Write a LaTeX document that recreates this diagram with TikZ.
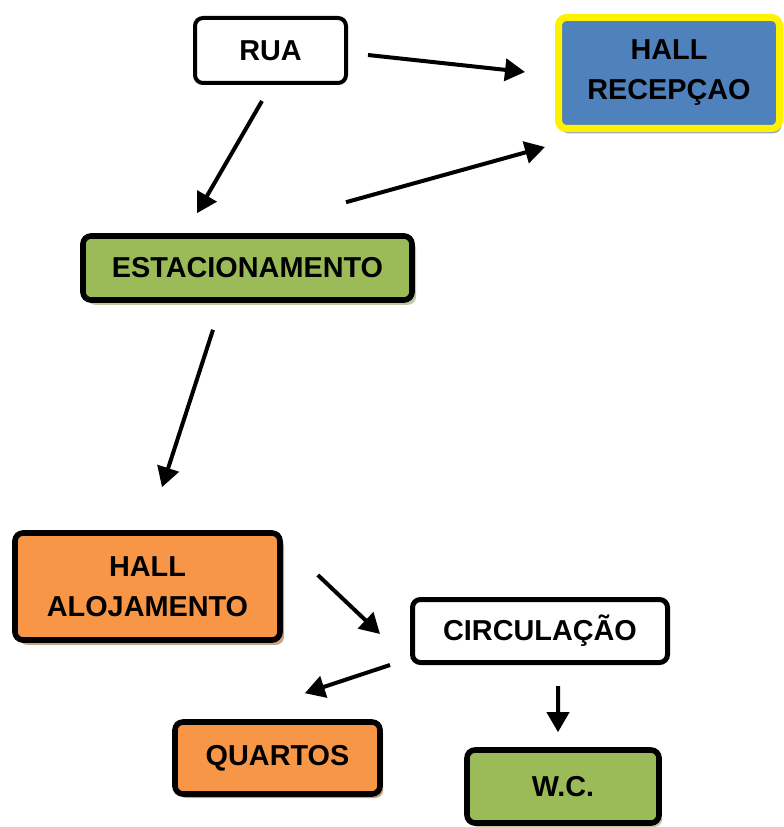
\documentclass[tikz,border=0pt]{standalone}
\usepackage{fontspec}
\setmainfont{Liberation Sans}
\usepackage{tikz}
\usetikzlibrary{calc}
\usetikzlibrary{arrows.meta}
\usetikzlibrary{shadows}

\definecolor{azul}{HTML}{4F81BD}
\definecolor{verde}{HTML}{9BBB59}
\definecolor{laranja}{HTML}{F79646}
\definecolor{sombraazul}{HTML}{A3A9B6}
\definecolor{sombraverde}{HTML}{BFC7A6}
\definecolor{sombralaranja}{HTML}{C9A27F}

\begin{document}
\begin{tikzpicture}
        \tikzset{caixa/.style={draw=black,rounded corners=0.2cm,line width=0.14cm,font=\bfseries\fontsize{20.5}{28.5}\selectfont,align=center,inner sep=0pt},
                 seta/.style={line width=0.1cm,-{Triangle[length=0.5cm,width=0.55cm]}}}
        \useasboundingbox (0,0) rectangle (19.575,-20.675);

        \coordinate (p_rua) at (6.7625,-1.2625);
        \coordinate (p_recep) at (16.725,-1.825);
        \coordinate (p_estac) at (6.1875,-6.7);
        \coordinate (p_aloj) at (3.6875,-14.6625);
        \coordinate (p_circ) at (13.5,-15.775);
        \coordinate (p_quartos) at (6.9375,-18.95);
        \coordinate (p_wc) at (14.075,-19.6625);

        %caixas
        \node[caixa,fill=white,line width=0.1cm,minimum width=3.775cm,minimum height=1.625cm] (rua) at (p_rua) {RUA};
        \node[caixa,fill=azul,draw=yellow,line width=0.175cm,minimum width=5.525cm,minimum height=2.775cm,
              drop shadow={shadow xshift=0.05cm,shadow yshift=-0.12cm,fill=sombraazul,opacity=1}] (recep) at (p_recep) {HALL\\RECEPÇAO};
        \node[caixa,fill=verde,minimum width=8.225cm,minimum height=1.6cm,
              drop shadow={shadow xshift=0.1cm,shadow yshift=-0.12cm,fill=sombraverde,opacity=1}] (estac) at (p_estac) {ESTACIONAMENTO};
        \node[caixa,fill=laranja,minimum width=6.625cm,minimum height=2.675cm,
              drop shadow={shadow xshift=0.1cm,shadow yshift=-0.12cm,fill=sombralaranja,opacity=1}] (aloj) at (p_aloj) {HALL\\ALOJAMENTO};
        \node[caixa,fill=white,line width=0.125cm,minimum width=6.375cm,minimum height=1.575cm] (circ) at (p_circ) {CIRCULAÇÃO};
        \node[caixa,fill=laranja,minimum width=5.125cm,minimum height=1.8cm,
              drop shadow={shadow xshift=0.08cm,shadow yshift=-0.1cm,fill=sombralaranja,opacity=1}] (quartos) at (p_quartos) {QUARTOS};
        \node[caixa,fill=verde,minimum width=4.8cm,minimum height=1.825cm,
              drop shadow={shadow xshift=0.08cm,shadow yshift=-0.1cm,fill=sombraverde,opacity=1}] (wc) at (p_wc) {W.C.};

        %setas
        \draw [seta] ($(rua.east)+(0.5,-0.1125)$) -- ($(recep.west)+(-0.75,0.025)$);
        \draw [seta] ($(rua.south)+(-0.2125,-0.4)$) -- ($(estac.north)+(-1.2625,0.5)$);
        \draw [seta] ($(estac.north)+(2.4625,0.775)$) -- ($(recep.south west)+(-0.25,-0.375)$);
        \draw [seta] ($(estac.south)+(-0.8625,-0.675)$) -- ($(aloj.north)+(0.3625,1.075)$);
        \draw [seta] ($(aloj.east)+(0.875,0.2875)$) -- ($(circ.west)+(-0.75,-0.075)$);
        \draw [seta] ($(circ.south west)+(-0.5,0)$) -- ($(quartos.north east)+(-1.95,0.65)$);
        \draw [seta] ($(circ.south)+(0.45,-0.525)$) -- ($(wc.north)+(-0.125,0.375)$);
        \end{tikzpicture}
\end{document}
